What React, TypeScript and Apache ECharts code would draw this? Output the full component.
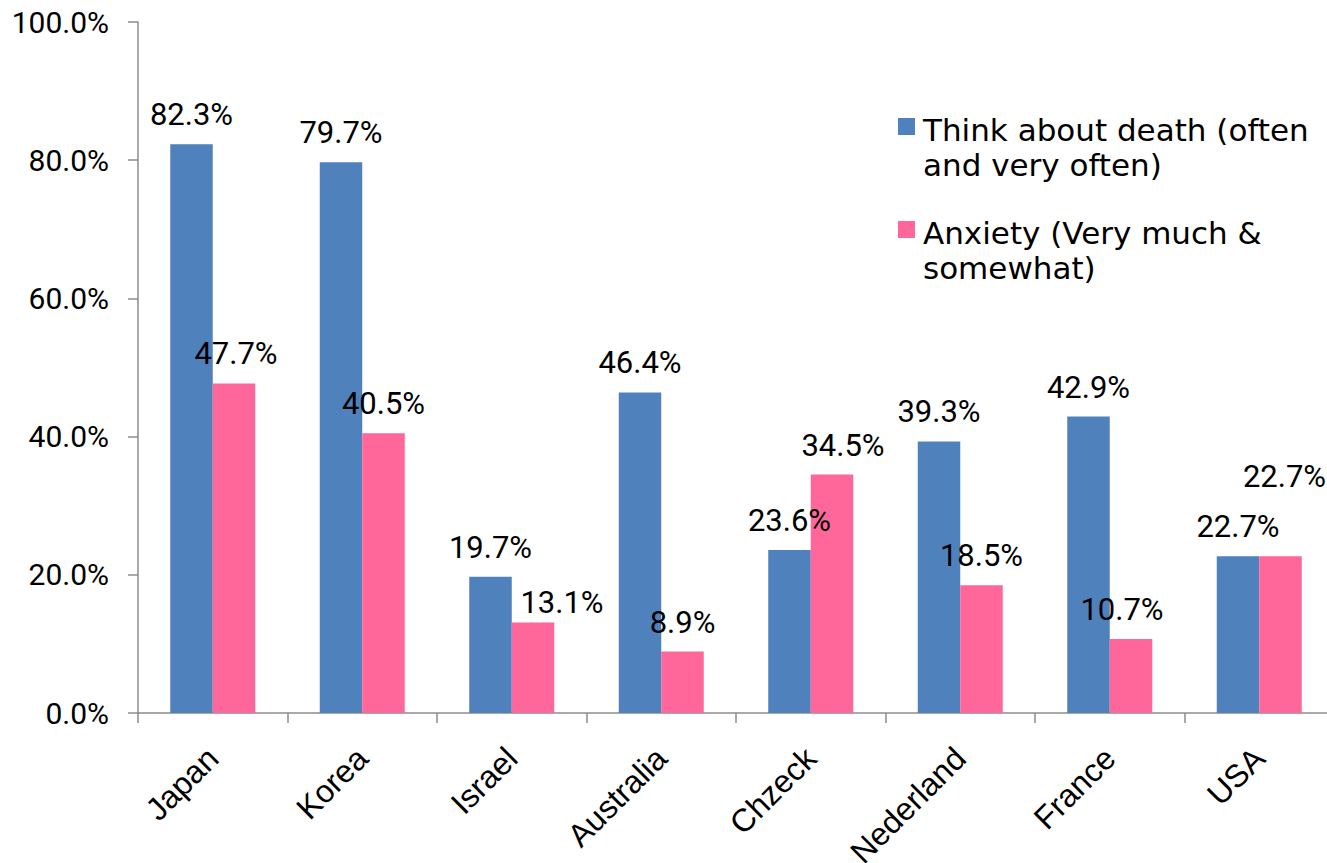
import React, { useEffect, useRef } from "react";
import * as echarts from "echarts";

const categories = ["Japan", "Korea", "Israel", "Australia", "Chzeck", "Nederland", "France", "USA"];
const thinkDeath = [82.3, 79.7, 19.7, 46.4, 23.6, 39.3, 42.9, 22.7];
const anxiety = [47.7, 40.5, 13.1, 8.9, 34.5, 18.5, 10.7, 22.7];
const seriesNames = ["Think about death (often and very often)", "Anxiety (Very much & somewhat)"];
const legendLines = [
  ["Think about death (often", "and very often)"],
  ["Anxiety (Very much &", "somewhat)"],
];
const colors = ["#4F81BD", "#FF6699"];
const yTicks = [0, 20, 40, 60, 80, 100];
// manual label nudges (as in the original Excel chart) for the Anxiety series
const anxietyLabelOffsets: [number, number][] = [
  [2, 0], [0, 0], [29, 10], [0, 0], [11, 0], [0, 0], [-9, 0], [4, -50],
];

const NUM_FONT = 'Roboto, "Liberation Sans", sans-serif';
const CAT_FONT = '"Liberation Sans", Arial, sans-serif';
const LEG_FONT = '"DejaVu Sans", sans-serif';

export default function App() {
  const ref = useRef<HTMLDivElement>(null);
  useEffect(() => {
    if (!ref.current) return;
    const chart = echarts.init(ref.current, undefined, { renderer: "svg" });
    const labelStyle = {
      show: true,
      position: "top" as const,
      distance: 14,
      color: "#000",
      fontSize: 31,
      fontFamily: NUM_FONT,
      formatter: (p: any) => p.value.toFixed(1) + "%",
    };
    const legendLeft = 898;
    const legendTops = [130, 233];
    const lineGap = 35;
    const graphics: any[] = [];
    legendLines.forEach((lines, i) => {
      graphics.push({
        type: "rect",
        left: legendLeft,
        top: legendTops[i] - 12,
        shape: { width: 17, height: 17 },
        style: { fill: colors[i] },
      });
      lines.forEach((t, j) => {
        graphics.push({
          type: "text",
          x: legendLeft + 25,
          y: legendTops[i] + j * lineGap,
          style: {
            text: t,
            font: `31px ${LEG_FONT}`,
            fill: "#000",
            verticalAlign: "middle",
            align: "left",
          },
        });
      });
    });
    chart.setOption({
      animation: false,
      backgroundColor: "#fff",
      textStyle: { fontFamily: NUM_FONT },
      grid: {
        left: 138,
        top: 22,
        bottom: 150,
        right: -7,
        containLabel: false,
        outerBoundsMode: "none",
      },
      legend: { show: false, data: seriesNames },
      graphic: graphics,
      xAxis: {
        type: "category",
        data: categories,
        axisLine: { lineStyle: { color: "#8c8c8c", width: 1.5 } },
        axisTick: { show: true, length: 10, lineStyle: { color: "#8c8c8c", width: 1.5 } },
        axisLabel: { rotate: 45, fontSize: 32, color: "#000", fontFamily: CAT_FONT, margin: 40, interval: 0 },
      },
      yAxis: {
        type: "value",
        min: 0,
        max: 100,
        interval: 20,
        splitLine: { show: false },
        axisLine: { show: true, lineStyle: { color: "#8c8c8c", width: 1.5 } },
        axisTick: { show: true, length: 10, lineStyle: { color: "#8c8c8c", width: 1.5 } },
        axisLabel: {
          fontSize: 30,
          color: "#000",
          fontFamily: NUM_FONT,
          margin: 29,
          formatter: (v: number) => (yTicks.includes(v) ? v.toFixed(1) + "%" : ""),
        },
      },
      series: [
        {
          name: seriesNames[0],
          type: "bar",
          barWidth: 42.5,
          barGap: "0%",
          itemStyle: { color: colors[0] },
          label: labelStyle,
          data: thinkDeath,
        },
        {
          name: seriesNames[1],
          type: "bar",
          barWidth: 42.5,
          barGap: "0%",
          itemStyle: { color: colors[1] },
          label: labelStyle,
          data: anxiety.map((v, i) => ({ value: v, label: { offset: anxietyLabelOffsets[i] } })),
        },
      ],
    });
    return () => chart.dispose();
  }, []);
  return <div ref={ref} style={{ width: 1327, height: 863, position: "absolute", left: 0, top: 0 }} />;
}
